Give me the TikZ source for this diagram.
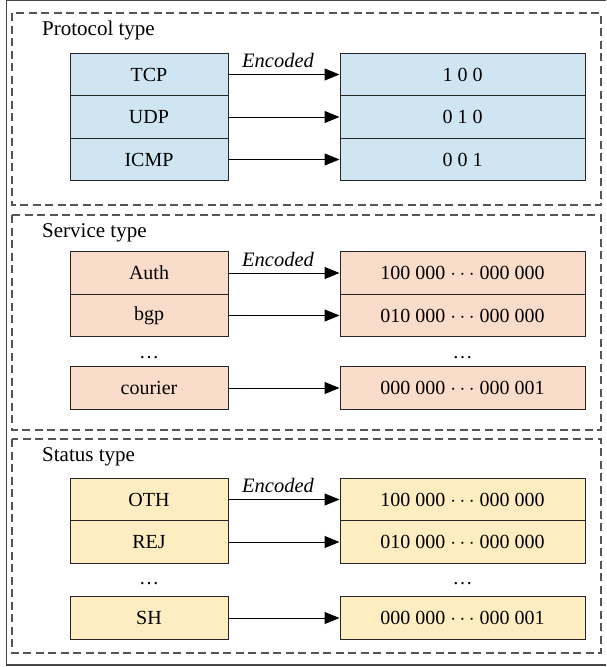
\documentclass[tikz,border=0pt]{standalone}
\usepackage{fontspec}
\setmainfont{Liberation Serif}
\usetikzlibrary{arrows.meta}
\definecolor{cblue}{RGB}{207,230,242}
\definecolor{csalmon}{RGB}{250,220,202}
\definecolor{cyellow}{RGB}{253,237,192}
\definecolor{dashgray}{RGB}{85,85,85}
\definecolor{framegray}{RGB}{70,70,70}
\tikzset{
  cell/.style={draw=black!85, line width=1pt, minimum height=42.5pt, inner sep=0pt,
    font=\fontsize{20}{23}\selectfont},
  lcell/.style={cell, minimum width=158pt},
  rcell/.style={cell, minimum width=245pt},
  section/.style={draw=dashgray, line width=1.2pt, dash pattern=on 8pt off 4.5pt},
  title/.style={anchor=base west, inner sep=0pt, font=\fontsize{21}{24}\selectfont},
  enc/.style={anchor=base, inner sep=0pt, xshift=-6pt, font=\fontsize{20.5}{23}\selectfont\itshape},
  dots/.style={anchor=base, inner sep=0pt, font=\fontsize{20}{23}\selectfont},
  arr/.style={line width=1pt, -{Triangle[length=15pt,width=12pt]}},
}
\begin{document}
\begin{tikzpicture}[x=1pt,y=-1pt]
\useasboundingbox (0,0) rectangle (606,667);
\begin{scope}
\clip (0,0) rectangle (606,667);
\draw[framegray, line width=1.2pt] (6.5,0.6) rectangle (612,665);
\end{scope}
% Section 1
\draw[section] (12,13) rectangle (601,205);
\node[title] (t1) at (42,35) {Protocol type};
\node[lcell, fill=cblue] (a1) at (149,74.5) {TCP};
\node[lcell, fill=cblue] (a2) at (149,117) {UDP};
\node[lcell, fill=cblue] (a3) at (149,159.5) {ICMP};
\node[rcell, fill=cblue] (b1) at (462.5,74.5) {1 0 0};
\node[rcell, fill=cblue] (b2) at (462.5,117) {0 1 0};
\node[rcell, fill=cblue] (b3) at (462.5,159.5) {0 0 1};
\draw[arr] (a1) -- node[enc, above=6pt] {Encoded} (b1);
\draw[arr] (a2) -- (b2);
\draw[arr] (a3) -- (b3);
% Section 2
\draw[section] (12,215) rectangle (601,430);
\node[title] (t2) at (42,237) {Service type};
\node[lcell, fill=csalmon] (c1) at (149,273) {Auth};
\node[lcell, fill=csalmon] (c2) at (149,315.5) {bgp};
\node[lcell, fill=csalmon] (c3) at (149,388) {courier};
\node[rcell, fill=csalmon] (d1) at (462.5,273) {100 000 $\cdots$ 000 000};
\node[rcell, fill=csalmon] (d2) at (462.5,315.5) {010 000 $\cdots$ 000 000};
\node[rcell, fill=csalmon] (d3) at (462.5,388) {000 000 $\cdots$ 000 001};
\node[dots] (cd) at (149,358) {\ldots};
\node[dots] (dd) at (462.5,358) {\ldots};
\draw[arr] (c1) -- node[enc, above=6pt] {Encoded} (d1);
\draw[arr] (c2) -- (d2);
\draw[arr] (c3) -- (d3);
% Section 3
\draw[section] (12,439) rectangle (601,653);
\node[title] (t3) at (42,461) {Status type};
\node[lcell, fill=cyellow] (e1) at (149,499.5) {OTH};
\node[lcell, fill=cyellow] (e2) at (149,542) {REJ};
\node[lcell, fill=cyellow] (e3) at (149,618) {SH};
\node[rcell, fill=cyellow] (f1) at (462.5,499.5) {100 000 $\cdots$ 000 000};
\node[rcell, fill=cyellow] (f2) at (462.5,542) {010 000 $\cdots$ 000 000};
\node[rcell, fill=cyellow] (f3) at (462.5,618) {000 000 $\cdots$ 000 001};
\node[dots] (ed) at (149,584) {\ldots};
\node[dots] (fd) at (462.5,584) {\ldots};
\draw[arr] (e1) -- node[enc, above=6pt] {Encoded} (f1);
\draw[arr] (e2) -- (f2);
\draw[arr] (e3) -- (f3);
\end{tikzpicture}
\end{document}
